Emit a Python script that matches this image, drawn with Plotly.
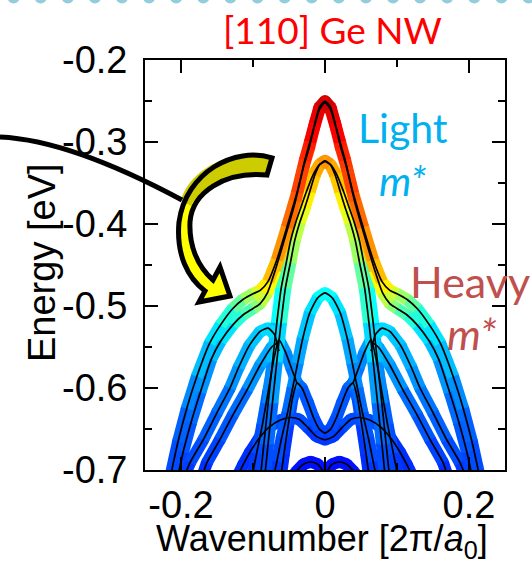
import plotly.graph_objects as go
from plotly.colors import sample_colorscale

# ---------------- data (right half, k >= 0; bands are symmetric in k) ----------------
# k in units of 2*pi/a0, E in eV, w = band weight (colour of the thick band, 0..1)
A1_k = [0, 0.008, 0.014, 0.021, 0.028, 0.039, 0.053, 0.067, 0.079, 0.090, 0.100, 0.114, 0.128, 0.145, 0.160, 0.178, 0.192, 0.204, 0.214]
A1_E = [-0.250, -0.258, -0.277, -0.300, -0.322, -0.362, -0.404, -0.444, -0.470, -0.481, -0.485, -0.492, -0.503, -0.523, -0.545, -0.586, -0.625, -0.665, -0.705]
A1_w = [0.92, 0.91, 0.89, 0.86, 0.83, 0.79, 0.75, 0.71, 0.66, 0.61, 0.56, 0.50, 0.44, 0.38, 0.33, 0.28, 0.24, 0.21, 0.19]

A2_k = [0, 0.008, 0.015, 0.022, 0.030, 0.041, 0.055, 0.069, 0.080, 0.090, 0.100, 0.114, 0.128, 0.145, 0.158, 0.173, 0.186, 0.197, 0.206]
A2_E = [-0.252, -0.261, -0.282, -0.307, -0.331, -0.372, -0.415, -0.456, -0.484, -0.497, -0.503, -0.511, -0.523, -0.543, -0.565, -0.605, -0.642, -0.678, -0.715]
A2_w = [0.90, 0.89, 0.87, 0.84, 0.81, 0.76, 0.71, 0.66, 0.59, 0.53, 0.48, 0.43, 0.38, 0.33, 0.29, 0.25, 0.22, 0.20, 0.18]

B1_k = [0, 0.007, 0.014, 0.021, 0.028, 0.035, 0.042, 0.048, 0.055, 0.061, 0.067, 0.073, 0.079, 0.085]
B1_E = [-0.323, -0.327, -0.340, -0.360, -0.380, -0.398, -0.420, -0.447, -0.478, -0.520, -0.568, -0.618, -0.668, -0.720]
B1_w = [0.74, 0.73, 0.70, 0.66, 0.62, 0.58, 0.55, 0.50, 0.45, 0.38, 0.31, 0.25, 0.21, 0.19]

B2_k = [0, 0.008, 0.017, 0.026, 0.034, 0.041, 0.048, 0.054, 0.061, 0.067, 0.073, 0.079, 0.085, 0.091]
B2_E = [-0.324, -0.328, -0.341, -0.361, -0.381, -0.399, -0.421, -0.448, -0.479, -0.521, -0.569, -0.619, -0.669, -0.720]
B2_w = [0.72, 0.70, 0.67, 0.63, 0.58, 0.54, 0.50, 0.46, 0.41, 0.34, 0.28, 0.23, 0.20, 0.18]

C_k = [0, 0.010, 0.021, 0.031, 0.038, 0.045, 0.052, 0.060, 0.067, 0.074]
C_E = [-0.484, -0.490, -0.508, -0.540, -0.570, -0.600, -0.630, -0.660, -0.690, -0.720]
C_w = [0.38, 0.37, 0.34, 0.30, 0.27, 0.24, 0.22, 0.20, 0.19, 0.18]

W_k = [0, 0.008, 0.016, 0.024, 0.032, 0.039, 0.045, 0.051, 0.057, 0.062]
W_E = [-0.655, -0.650, -0.636, -0.617, -0.600, -0.594, -0.612, -0.645, -0.680, -0.712]
W_w = [0.19, 0.19, 0.20, 0.21, 0.22, 0.23, 0.21, 0.19, 0.18, 0.17]

L_k = [0.039, 0.047, 0.055, 0.064, 0.071, 0.079, 0.087, 0.095, 0.103]
L_E = [-0.594, -0.575, -0.556, -0.541, -0.565, -0.605, -0.645, -0.680, -0.715]
L_w = [0.23, 0.25, 0.27, 0.29, 0.27, 0.24, 0.21, 0.19, 0.17]

H_k = [0, 0.012, 0.024, 0.036, 0.048, 0.062, 0.078, 0.092, 0.104, 0.114, 0.124]
H_E = [-0.663, -0.659, -0.648, -0.638, -0.636, -0.639, -0.648, -0.662, -0.678, -0.694, -0.712]
H_w = [0.18, 0.18, 0.19, 0.20, 0.20, 0.20, 0.19, 0.18, 0.17, 0.17, 0.16]

Z_k = [0, 0.010, 0.020, 0.030, 0.040, 0.046]
Z_E = [-0.703, -0.693, -0.690, -0.693, -0.702, -0.712]
Z_w = [0.14, 0.14, 0.14, 0.14, 0.14, 0.14]

F_k = [0.064, 0.070, 0.079, 0.090, 0.105, 0.120, 0.132, 0.150, 0.169, 0.1875, 0.197]
F_E = [-0.555, -0.535, -0.527, -0.531, -0.548, -0.575, -0.600, -0.630, -0.663, -0.691, -0.712]
F_w = [0.31, 0.33, 0.34, 0.33, 0.31, 0.28, 0.25, 0.23, 0.21, 0.19, 0.18]

J_k = [0.066, 0.074, 0.090, 0.108, 0.128, 0.146, 0.164, 0.172]
J_E = [-0.545, -0.550, -0.572, -0.602, -0.633, -0.663, -0.691, -0.712]
J_w = [0.30, 0.30, 0.28, 0.25, 0.22, 0.20, 0.18, 0.17]

x_tickvals = [-0.2, 0, 0.2]
x_ticktext = ["-0.2", "0", "0.2"]
x_minor = [-0.1, 0.1]
y_tickvals = [-0.7, -0.6, -0.5, -0.4, -0.3, -0.2]
y_ticktext = ["-0.7", "-0.6", "-0.5", "-0.4", "-0.3", "-0.2"]
y_minor = [-0.65, -0.55, -0.45, -0.35, -0.25]

title_text = "[110] Ge NW"
x_title = "Wavenumber [2π/<i>a</i><sub>0</sub>]"
y_title = "Energy [eV]"

bands = [(A1_k, A1_E, A1_w), (A2_k, A2_E, A2_w), (B1_k, B1_E, B1_w), (B2_k, B2_E, B2_w),
         (C_k, C_E, C_w), (W_k, W_E, W_w), (L_k, L_E, L_w), (H_k, H_E, H_w),
         (Z_k, Z_E, Z_w), (F_k, F_E, F_w), (J_k, J_E, J_w)]

JET = [[0.0, 'rgb(0,0,143)'], [0.125, 'rgb(0,0,255)'], [0.375, 'rgb(0,255,255)'],
       [0.625, 'rgb(255,255,0)'], [0.875, 'rgb(255,0,0)'], [1.0, 'rgb(128,0,0)']]


def mirror(k, E, w):
    if k[0] == 0:
        return [([-v for v in k[::-1]] + k[1:], E[::-1] + E[1:], w[::-1] + w[1:])]
    return [([-v for v in k[::-1]], E[::-1], w[::-1]), (list(k), list(E), list(w))]


pieces = []
for b in bands:
    pieces.extend(mirror(*b))

fig = go.Figure()

# vertex fillers for the thick coloured bands
vx, vy, vw = [], [], []
for kk, EE, ww in pieces:
    vx += kk; vy += EE; vw += ww
fig.add_trace(go.Scatter(x=vx, y=vy, mode="markers",
                         marker=dict(size=12, color=vw, colorscale=JET, cmin=0, cmax=1,
                                     line=dict(width=0)),
                         hoverinfo="skip", showlegend=False))

# coloured segments grouped by colour
groups = {}
for kk, EE, ww in pieces:
    for i in range(len(kk) - 1):
        wm = round((ww[i] + ww[i + 1]) / 2, 2)
        g = groups.setdefault(wm, ([], []))
        g[0].extend([kk[i], kk[i + 1], None])
        g[1].extend([EE[i], EE[i + 1], None])
for wm in sorted(groups):
    col = sample_colorscale(JET, [wm])[0]
    fig.add_trace(go.Scatter(x=groups[wm][0], y=groups[wm][1], mode="lines",
                             line=dict(color=col, width=12), hoverinfo="skip",
                             showlegend=False))

# thin black band lines
for kk, EE, ww in pieces:
    fig.add_trace(go.Scatter(x=kk, y=EE, mode="lines",
                             line=dict(color="black", width=1.7, shape="spline", smoothing=0.6),
                             hoverinfo="skip", showlegend=False))

# ---------------- layout ----------------
L, R, T, B = 145, 27, 60, 93
W, Hh = 532, 563
PW, PH = W - L - R, Hh - T - B


def px(x):
    return (x - L) / PW


def py(y):
    return (Hh - B - y) / PH


def P(x, y):
    return f"{px(x):.4f},{py(y):.4f}"


shapes = []
# dotted decoration along the top edge
for i in range(20):
    cx = 13.6 + 27.1 * i
    shapes.append(dict(type="circle", xref="paper", yref="paper",
                       x0=px(cx - 6), x1=px(cx + 6), y0=py(3.5), y1=py(-8.5),
                       fillcolor="#92cddc", line=dict(width=0), layer="above"))

arrow = (f"M {P(272,158)} C {P(235,146)} {P(186,172)} {P(179,222)} "
         f"C {P(176,255)} {P(188,278)} {P(205,291)} L {P(199,302)} L {P(230,296)} "
         f"L {P(220,267)} L {P(213,280)} C {P(197,266)} {P(189,245)} {P(190,222)} "
         f"C {P(192,192)} {P(225,171)} {P(267,175)} Z")
top_part = (f"M {P(272,158)} C {P(235,146)} {P(190,168)} {P(181,200)} L {P(191,206)} "
            f"C {P(200,186)} {P(230,172)} {P(267,175)} Z")
shapes.append(dict(type="path", xref="paper", yref="paper", path=arrow,
                   fillcolor="#ffff00", line=dict(width=0), layer="above"))
shapes.append(dict(type="path", xref="paper", yref="paper", path=top_part,
                   fillcolor="#cccc00", line=dict(width=0), layer="above"))
shapes.append(dict(type="path", xref="paper", yref="paper", path=arrow,
                   fillcolor="rgba(0,0,0,0)", line=dict(color="black", width=5), layer="above"))
shapes.append(dict(type="path", xref="paper", yref="paper",
                   path=f"M {P(0,137)} Q {P(70,140)} {P(182,200)}",
                   line=dict(color="black", width=5), layer="above"))

ARIAL = "Liberation Sans, Arial, sans-serif"
CAL = "Lato, Calibri, sans-serif"

annotations = [
    dict(text=title_text, x=px(332), y=py(30), font=dict(family=CAL, size=37, color="#ff0000")),
    dict(text=x_title, x=px(322), y=py(541), font=dict(family=ARIAL, size=36, color="black")),
    dict(text=y_title, x=px(42), y=py(263), textangle=-90, font=dict(family=ARIAL, size=38, color="black")),
    dict(text="Light", x=px(403), y=py(127), font=dict(family=CAL, size=41, color="#00b0f0")),
    dict(text="<i>m*</i>", x=px(402), y=py(180), font=dict(family=CAL, size=41, color="#00b0f0")),
    dict(text="Heavy", x=px(470), y=py(281), font=dict(family=CAL, size=43, color="#c0504d")),
    dict(text="<i>m*</i>", x=px(472), y=py(334), font=dict(family=CAL, size=43, color="#c0504d")),
]
for a in annotations:
    a.update(xref="paper", yref="paper", showarrow=False, xanchor="center", yanchor="middle")

axis_common = dict(showgrid=False, zeroline=False, showline=True, linecolor="black", linewidth=1.8,
                   mirror="allticks", ticks="inside", ticklen=13, tickwidth=1.8, tickcolor="black",
                   tickfont=dict(family=ARIAL, size=38, color="black"))

fig.update_layout(
    width=W, height=Hh, margin=dict(l=L, r=R, t=T, b=B, pad=0),
    plot_bgcolor="white", paper_bgcolor="white", showlegend=False,
    xaxis=dict(range=[-0.25, 0.25], tickmode="array", tickvals=x_tickvals, ticktext=x_ticktext,
               minor=dict(tickmode="array", tickvals=x_minor, ticks="inside", ticklen=7,
                          tickwidth=1.8, tickcolor="black"),
               ticklabelstandoff=0, **axis_common),
    yaxis=dict(range=[-0.7, -0.2], tickmode="array", tickvals=y_tickvals, ticktext=y_ticktext,
               minor=dict(tickmode="array", tickvals=y_minor, ticks="inside", ticklen=7,
                          tickwidth=1.8, tickcolor="black"),
               ticklabelstandoff=8, **axis_common),
    shapes=shapes, annotations=annotations,
)

fig.write_html("out.html", config={"displayModeBar": False},
               post_script="document.body.style.margin='0';")
